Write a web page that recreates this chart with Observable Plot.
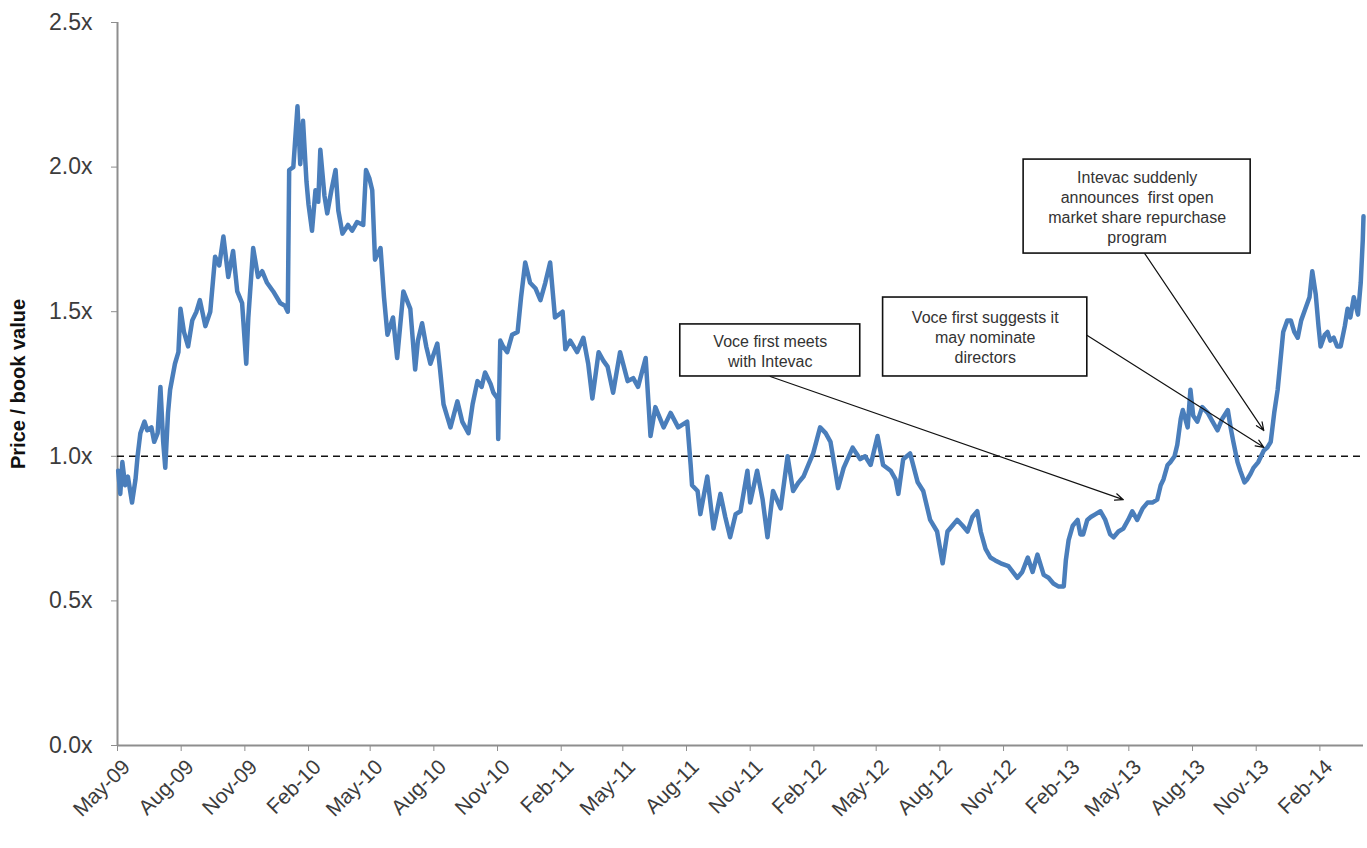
<!DOCTYPE html>
<html><head><meta charset="utf-8">
<script src="https://cdn.jsdelivr.net/npm/d3@7"></script>
<script src="https://cdn.jsdelivr.net/npm/@observablehq/plot@0.6"></script>
<style>
html,body{margin:0;padding:0;background:#fff;}
#chart svg{display:block;}
</style>
</head><body><div id="chart"></div>
<script>
// ---- series: price / book value ----
const dates = [
"2009-05-02","2009-05-05","2009-05-08","2009-05-12","2009-05-16","2009-05-22","2009-05-27","2009-05-30","2009-06-03","2009-06-09",
"2009-06-13","2009-06-19","2009-06-23","2009-06-28","2009-07-02","2009-07-06","2009-07-09","2009-07-13","2009-07-16","2009-07-23",
"2009-07-28","2009-07-31","2009-08-05","2009-08-11","2009-08-17","2009-08-23","2009-08-28","2009-09-05","2009-09-12","2009-09-19",
"2009-09-25","2009-10-01","2009-10-08","2009-10-15","2009-10-21","2009-10-28","2009-11-03","2009-11-06","2009-11-13","2009-11-20",
"2009-11-26","2009-12-03","2009-12-12","2009-12-22","2009-12-29","2010-01-02","2010-01-04","2010-01-10","2010-01-16","2010-01-20",
"2010-01-24","2010-01-29","2010-02-01","2010-02-06","2010-02-11","2010-02-15","2010-02-18","2010-02-24","2010-02-28","2010-03-06",
"2010-03-12","2010-03-16","2010-03-22","2010-03-30","2010-04-05","2010-04-12","2010-04-21","2010-04-25","2010-04-30","2010-05-04",
"2010-05-08","2010-05-16","2010-05-21","2010-05-26","2010-05-30","2010-06-03","2010-06-09","2010-06-18","2010-06-28","2010-07-05",
"2010-07-09","2010-07-15","2010-07-21","2010-07-27","2010-08-06","2010-08-10","2010-08-15","2010-08-20","2010-08-25","2010-09-04",
"2010-09-11","2010-09-20","2010-09-26","2010-10-03","2010-10-09","2010-10-14","2010-10-22","2010-10-26","2010-11-01","2010-11-02",
"2010-11-05","2010-11-09","2010-11-15","2010-11-22","2010-11-30","2010-12-05","2010-12-11","2010-12-18","2010-12-26","2011-01-02",
"2011-01-09","2011-01-16","2011-01-23","2011-02-03","2011-02-07","2011-02-14","2011-02-24","2011-03-05","2011-03-12","2011-03-18",
"2011-03-27","2011-04-03","2011-04-09","2011-04-17","2011-04-27","2011-05-08","2011-05-16","2011-05-23","2011-06-03","2011-06-10",
"2011-06-17","2011-06-29","2011-07-09","2011-07-20","2011-08-02","2011-08-07","2011-08-09","2011-08-17","2011-08-21","2011-08-31",
"2011-09-09","2011-09-19","2011-09-26","2011-10-03","2011-10-11","2011-10-18","2011-10-28","2011-11-01","2011-11-11","2011-11-19",
"2011-11-26","2011-12-04","2011-12-15","2011-12-25","2012-01-02","2012-01-10","2012-01-17","2012-01-24","2012-01-31","2012-02-10",
"2012-02-18","2012-02-25","2012-03-03","2012-03-07","2012-03-15","2012-03-28","2012-04-08","2012-04-15","2012-04-23","2012-05-03",
"2012-05-11","2012-05-22","2012-05-29","2012-06-02","2012-06-09","2012-06-19","2012-06-30","2012-07-08","2012-07-18","2012-07-28",
"2012-08-05","2012-08-12","2012-08-19","2012-08-26","2012-09-03","2012-09-10","2012-09-17","2012-09-24","2012-09-29","2012-10-06",
"2012-10-13","2012-10-20","2012-10-28","2012-11-08","2012-11-21","2012-11-28","2012-12-06","2012-12-13","2012-12-20","2012-12-29",
"2013-01-05","2013-01-12","2013-01-19","2013-01-27","2013-01-30","2013-02-03","2013-02-09","2013-02-16","2013-02-20","2013-02-24",
"2013-03-02","2013-03-07","2013-03-14","2013-03-21","2013-03-28","2013-04-04","2013-04-09","2013-04-16","2013-04-23","2013-04-30",
"2013-05-06","2013-05-13","2013-05-21","2013-05-28","2013-06-04","2013-06-11","2013-06-16","2013-06-20","2013-06-26","2013-06-30",
"2013-07-06","2013-07-10","2013-07-15","2013-07-18","2013-07-25","2013-07-29","2013-08-02","2013-08-08","2013-08-15","2013-08-23",
"2013-08-30","2013-09-06","2013-09-13","2013-09-21","2013-09-25","2013-09-29","2013-10-05","2013-10-09","2013-10-15","2013-10-19",
"2013-10-24","2013-10-28","2013-11-04","2013-11-12","2013-11-17","2013-11-22","2013-11-27","2013-12-02","2013-12-06","2013-12-10",
"2013-12-16","2013-12-21","2013-12-26","2013-12-31","2014-01-05","2014-01-11","2014-01-17","2014-01-21","2014-01-26","2014-01-30",
"2014-02-02","2014-02-08","2014-02-12","2014-02-16","2014-02-21","2014-02-26","2014-03-03","2014-03-09","2014-03-13","2014-03-17",
"2014-03-22","2014-03-28","2014-04-01","2014-04-04","2014-04-05"
];
const ratios = [
0.95,0.87,0.98,0.90,0.93,0.84,0.92,1.00,1.08,1.12,
1.09,1.10,1.05,1.08,1.24,1.05,0.96,1.15,1.23,1.32,
1.36,1.51,1.43,1.38,1.47,1.50,1.54,1.45,1.50,1.69,
1.66,1.76,1.62,1.71,1.57,1.53,1.32,1.48,1.72,1.62,
1.64,1.60,1.57,1.53,1.52,1.50,1.99,2.00,2.21,2.01,
2.16,1.95,1.87,1.78,1.92,1.88,2.06,1.90,1.84,1.92,
1.99,1.85,1.77,1.80,1.78,1.81,1.80,1.99,1.96,1.92,
1.68,1.72,1.55,1.42,1.45,1.48,1.34,1.57,1.51,1.30,
1.40,1.46,1.38,1.32,1.39,1.30,1.18,1.14,1.10,1.19,
1.12,1.08,1.18,1.26,1.24,1.29,1.25,1.22,1.20,1.06,
1.40,1.38,1.36,1.42,1.43,1.55,1.67,1.60,1.58,1.54,
1.60,1.67,1.48,1.50,1.37,1.40,1.36,1.41,1.32,1.20,
1.36,1.33,1.31,1.22,1.36,1.26,1.27,1.24,1.34,1.07,
1.17,1.10,1.15,1.10,1.12,0.97,0.90,0.88,0.80,0.93,
0.75,0.87,0.79,0.72,0.80,0.81,0.95,0.84,0.95,0.85,
0.72,0.88,0.82,1.00,0.88,0.91,0.93,0.97,1.01,1.10,
1.08,1.05,0.95,0.89,0.96,1.03,0.99,1.00,0.97,1.07,
0.97,0.95,0.92,0.87,0.99,1.01,0.91,0.88,0.78,0.74,
0.63,0.74,0.76,0.78,0.76,0.74,0.79,0.81,0.74,0.68,
0.65,0.64,0.63,0.62,0.58,0.60,0.65,0.60,0.66,0.59,
0.58,0.56,0.55,0.55,0.64,0.71,0.76,0.78,0.73,0.73,
0.78,0.79,0.80,0.81,0.78,0.73,0.72,0.74,0.75,0.78,
0.81,0.78,0.82,0.84,0.84,0.85,0.90,0.92,0.97,0.98,
1.00,1.04,1.13,1.16,1.10,1.23,1.14,1.12,1.17,1.15,
1.12,1.09,1.13,1.16,1.10,1.05,0.98,0.95,0.91,0.92,
0.94,0.96,0.98,1.02,1.03,1.05,1.15,1.23,1.33,1.43,
1.47,1.47,1.43,1.41,1.47,1.51,1.55,1.64,1.56,1.45,
1.38,1.42,1.43,1.40,1.41,1.38,1.38,1.45,1.51,1.48,
1.55,1.49,1.60,1.75,1.83
];

// ---- axes ----
const xStart = "2009-05-01";
const xEnd = "2014-04-05";
const xTickDates = ["2009-05-01","2009-08-01","2009-11-01","2010-02-01","2010-05-01","2010-08-01","2010-11-01",
  "2011-02-01","2011-05-01","2011-08-01","2011-11-01","2012-02-01","2012-05-01","2012-08-01","2012-11-01",
  "2013-02-01","2013-05-01","2013-08-01","2013-11-01","2014-02-01"];
const yTicks = [0, 0.5, 1.0, 1.5, 2.0, 2.5];
const parityLevel = 1.0;
const yTitle = "Price / book value";

// ---- annotations ----
const noteTexts = [
  "Voce first meets\nwith Intevac",
  "Voce first suggests it\nmay nominate\ndirectors",
  "Intevac suddenly\nannounces  first open\nmarket share repurchase\nprogram"
];
const noteBoxStart = ["2011-07-23", "2012-05-11", "2012-11-30"];
const noteBoxEnd   = ["2012-04-08", "2013-03-02", "2013-10-24"];
const noteBoxLow   = [1.276, 1.276, 1.701];
const noteBoxHigh  = [1.456, 1.549, 2.026];
const arrowFromDate = ["2011-11-30", "2013-03-02", "2013-05-24"];
const arrowFromVal  = [1.276, 1.418, 1.701];
const arrowToDate   = ["2013-04-23", "2013-11-12", "2013-11-12"];
const arrowToVal    = [0.850, 1.031, 1.089];

const parse = d3.utcParse("%Y-%m-%d");
const series = dates.map((d, i) => ({date: parse(d), ratio: ratios[i]}));
const notes = noteTexts.map((t, i) => {
  const a = parse(noteBoxStart[i]), b = parse(noteBoxEnd[i]);
  return {
    text: t, x1: a, x2: b,
    xm: new Date((+a + +b) / 2),
    y1: noteBoxLow[i], y2: noteBoxHigh[i], ym: (noteBoxLow[i] + noteBoxHigh[i]) / 2,
    ax1: parse(arrowFromDate[i]), ay1: arrowFromVal[i],
    ax2: parse(arrowToDate[i]), ay2: arrowToVal[i]
  };
});

const font = "'Liberation Sans', Arial, Helvetica, sans-serif";
const axisGray = "#8e8e8e";
const textGray = "#3c3c3c";

const chart = Plot.plot({
  width: 1367,
  height: 848,
  marginLeft: 117,
  marginRight: 4,
  marginTop: 22,
  marginBottom: 103,
  style: {fontFamily: font, background: "#fff", overflow: "visible"},
  x: {type: "utc", domain: [parse(xStart), parse(xEnd)]},
  y: {domain: [0, 2.5]},
  marks: [
    Plot.axisY({
      ticks: yTicks, tickSize: 6, tickPadding: 19, stroke: axisGray,
      tickFormat: d => d.toFixed(1) + "x", fontSize: 23, fill: textGray, label: null
    }),
    Plot.axisX({
      ticks: xTickDates.map(parse), tickSize: 6, tickPadding: 6, stroke: axisGray,
      tickFormat: d3.utcFormat("%b-%y"), tickRotate: -45, fontSize: 21, fill: textGray, label: null,
      textStroke: null
    }),
    Plot.ruleX([parse(xStart)], {y1: 0, y2: 2.5, stroke: axisGray, strokeWidth: 2}),
    Plot.ruleY([0], {stroke: axisGray, strokeWidth: 2}),
    Plot.text([yTitle], {frameAnchor: "left", textAnchor: "middle", dx: -99, rotate: -90, fontSize: 20, fontWeight: "bold", fill: "#111"}),
    Plot.ruleY([parityLevel], {stroke: "#111", strokeWidth: 1.6, strokeDasharray: "7,5"}),
    Plot.line(series, {x: "date", y: "ratio", stroke: "#4a7ebb", strokeWidth: 4.5, strokeLinejoin: "round", strokeLinecap: "round"}),
    Plot.arrow(notes, {x1: "ax1", y1: "ay1", x2: "ax2", y2: "ay2", stroke: "#111", strokeWidth: 1.2, headLength: 11, headAngle: 45}),
    Plot.rect(notes, {x1: "x1", x2: "x2", y1: "y1", y2: "y2", fill: "#fff", stroke: "#111", strokeWidth: 1.6}),
    Plot.text(notes, {x: "xm", y: "ym", text: "text", fontSize: 16, lineHeight: 1.25, fill: "#333", textAnchor: "middle"})
  ]
});
// nudge the rotated month labels so their ends sit just right of / below the ticks, as in the reference
chart.querySelectorAll("g[aria-label='x-axis tick label']").forEach(g => {
  g.setAttribute("transform", (g.getAttribute("transform") || "") + " translate(9,6)");
});
document.getElementById("chart").append(chart);
</script>
</body></html>
